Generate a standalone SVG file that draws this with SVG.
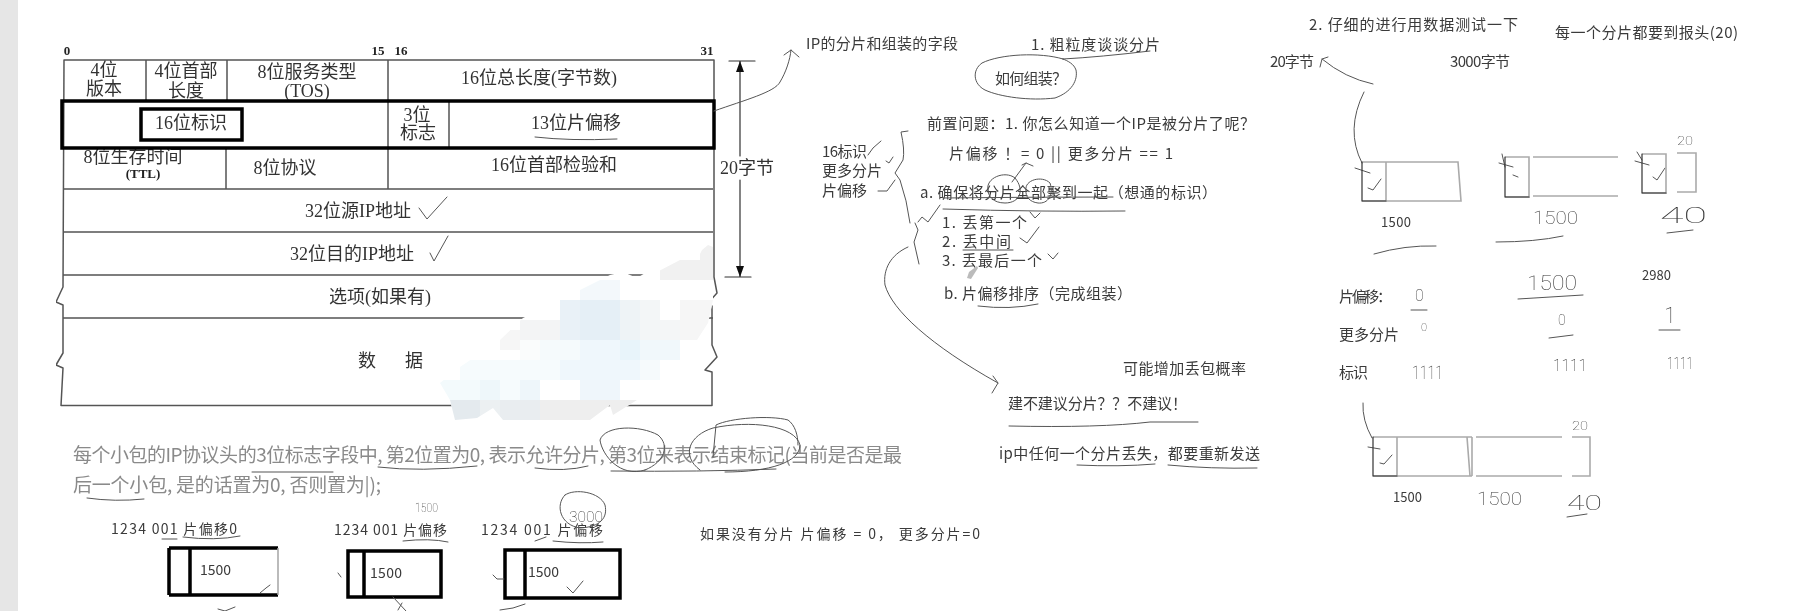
<svg xmlns="http://www.w3.org/2000/svg" width="1811" height="611" viewBox="0 0 1811 611" font-size="15">
<defs>
<style>
text{font-family:"Noto Sans CJK SC","Liberation Sans",sans-serif;fill:#3a3a3a;dominant-baseline:central}
.s{font-family:"Liberation Serif","Noto Sans CJK SC",serif;font-size:18px;fill:#333;text-anchor:middle}
.n{font-family:"Liberation Serif",serif;font-size:13px;font-weight:bold;fill:#222;text-anchor:middle}
.g{font-size:19px;fill:#8a8a8a}
.hw{font-family:"Roboto",sans-serif;font-weight:100;fill:#333}
.t{fill:none;stroke:#555;stroke-width:1.5;stroke-linejoin:round}
.k{fill:none;stroke:#000;stroke-width:3.5}
.p{fill:none;stroke:#555;stroke-width:1;stroke-linecap:round;stroke-linejoin:round}
.d{fill:none;stroke:#333;stroke-width:1.2;stroke-linecap:round}
.b{fill:none;stroke:#aaa;stroke-width:1.6}
</style>
<filter id="soft" x="0" y="0" width="100%" height="100%"><feGaussianBlur stdDeviation="0.45"/></filter>
<clipPath id="mosaic"><path d="M713 247L708 245L702 250L697 260L680 260L657 272L650 270L637 278L623 272L610 275L580 290L560 300L523 318L500 340L460 367L440 383L450 400L455 420L477 418L493 408L503 420L590 420L610 405L613 415L637 400L663 380L680 360L697 340L708 323L713 300Z"/></clipPath>
</defs>
<rect width="1811" height="611" fill="#fff"/>
<rect x="0" y="0" width="18" height="611" fill="#e6e6e6"/>
<g filter="url(#soft)">
<g id="ip-table">
<text class="n" x="67" y="50">0</text><text class="n" x="378" y="50">15</text><text class="n" x="401" y="50">16</text><text class="n" x="707" y="50">31</text>
<path class="t" d="M64 60H714V277L717 293L708 303L712 306L712 345L717 357L705 370L712 372V405.5H61L63 368L56 365L63 353V305L56 302L63 287Z"/>
<path class="t" d="M64 189H713M63 232H713M63 275H713M63 318H713M146 60V101M227 60V101M388 60V189M449 101V148M226 148V189"/>
<g id="table-labels">
<text class="s" x="104" y="70">4位</text><text class="s" x="104" y="89">版本</text>
<text class="s" x="186" y="71">4位首部</text><text class="s" x="186" y="91">长度</text>
<text class="s" x="307" y="72">8位服务类型</text><text class="s" x="307" y="91">(TOS)</text>
<text class="s" x="539" y="78">16位总长度(字节数)</text>
<text class="s" x="191" y="123">16位标识</text>
<text class="s" x="417" y="115">3位</text><text class="s" x="418" y="133">标志</text>
<text class="s" x="576" y="123">13位片偏移</text>
<text class="s" x="133" y="157">8位生存时间</text><text class="n" x="143" y="173">(TTL)</text>
<text class="s" x="285" y="168">8位协议</text>
<text class="s" x="554" y="165">16位首部检验和</text>
<text class="s" x="358" y="211">32位源IP地址</text>
<text class="s" x="352" y="254">32位目的IP地址</text>
<text class="s" x="380" y="297">选项(如果有)</text>
<text class="s" x="367" y="361">数</text><text class="s" x="414" y="361">据</text>
</g>
<rect class="k" x="62" y="101" width="652" height="47"/>
<rect class="k" x="141" y="109" width="101" height="31"/>
<g clip-path="url(#mosaic)">
<rect x="430" y="240" width="290" height="190" fill="#fff"/>
<g fill="#f1f1f1"><rect x="660" y="260" width="40" height="20"/><rect x="700" y="240" width="20" height="40"/><rect x="680" y="300" width="40" height="40" fill="#f6f6f6"/><rect x="520" y="320" width="40" height="20" fill="#f3f4f5"/><rect x="500" y="330" width="20" height="20" fill="#f6f6f6"/></g>
<rect x="580" y="280" width="40" height="20" fill="#f3f8fb"/>
<rect x="560" y="300" width="20" height="40" fill="#e9f1f7"/>
<rect x="580" y="300" width="40" height="40" fill="#e5eff6"/>
<rect x="620" y="300" width="20" height="40" fill="#eef3f6"/><rect x="640" y="300" width="20" height="40" fill="#f3f6f7"/><rect x="660" y="320" width="20" height="20" fill="#f4f6f7"/>
<rect x="520" y="340" width="40" height="20" fill="#fafcfc"/><rect x="540" y="340" width="40" height="20" fill="#f5fafc"/><rect x="580" y="340" width="40" height="20" fill="#eff7fc"/><rect x="620" y="340" width="20" height="20" fill="#e8f4fa"/><rect x="640" y="340" width="40" height="20" fill="#f1f8fb"/>
<rect x="460" y="360" width="100" height="20" fill="#f6fbfd"/><rect x="560" y="360" width="80" height="20" fill="#eff7fc"/><rect x="640" y="360" width="20" height="20" fill="#f6fafc"/>
<rect x="440" y="380" width="60" height="20" fill="#f3fafc"/><rect x="480" y="380" width="20" height="20" fill="#eef7fa"/><rect x="500" y="380" width="20" height="20" fill="#f6fbfd"/><rect x="520" y="380" width="20" height="20" fill="#eef6fa"/><rect x="580" y="380" width="40" height="20" fill="#eff6fb"/>
<rect x="450" y="400" width="30" height="20" fill="#e4eaee"/><rect x="480" y="400" width="20" height="20" fill="#ecf0f2"/><rect x="500" y="400" width="40" height="20" fill="#e9edf0"/><rect x="540" y="400" width="100" height="20" fill="#eeeeee"/>
</g>
<path class="d" d="M740 61V156M740 180V277M729 61H755M725 277H751"/>
<path d="M740 61L736 72H744ZM740 277L736 266H744Z" fill="#111"/>
<text class="s" x="747" y="168">20字节</text>
<path class="p" d="M535 137Q570 141 617 139"/>
<path class="p" d="M419 208L427 219L447 197M430 253L434 261L448 236"/>
</g>

<g id="fragment-note">
<text class="g" x="73" y="453" textLength="829">每个小包的IP协议头的3位标志字段中, 第2位置为0, 表示允许分片, 第3位来表示结束标记(当前是否是最</text>
<text class="g" x="73" y="483" textLength="308">后一个小包, 是的话置为0, 否则置为|);</text>
<path class="p" d="M378 467Q420 472 477 466M535 468Q565 472 588 466M611 471Q700 472 776 469M87 498Q115 502 144 499M252 472H333"/>
<path class="p" d="M645 470C620 478 602 455 600 440C605 425 640 425 658 435C670 445 665 462 645 470Z"/>
<path class="p" d="M700 470C680 455 690 435 713 428C750 420 795 425 800 445C800 462 770 472 725 472M713 457L716 425C730 418 770 415 788 420C795 425 798 435 798 445"/>
</g>
<g id="fragments" font-size="14">
<text x="111" y="528" textLength="126">1234 001 片偏移0</text>
<text x="334" y="529" textLength="113">1234 001 片偏移</text>
<text x="481" y="529" textLength="122">1234 001 片偏移</text>
<text class="hw" x="415" y="508" font-size="12" textLength="23" lengthAdjust="spacingAndGlyphs">1500</text>
<text class="hw" x="569" y="517" font-size="15" textLength="34" lengthAdjust="spacingAndGlyphs">3000</text>
<path class="p" d="M565 495C575 488 600 492 605 505C608 518 600 527 580 528C560 525 555 505 565 495Z"/>
<path class="p" d="M162 539H177M183 537Q215 541 240 536M403 541Q430 538 448 542M535 541L546 537M553 541Q580 544 603 542"/>
<path class="k" d="M169 548H278M169 595H278M169 548V595M190 548V595"/>
<path class="b" d="M278 548V595"/>
<rect class="k" x="348" y="551" width="93" height="46"/><path class="k" d="M364 551V597"/>
<rect class="k" x="505" y="550" width="115" height="48"/><path class="k" d="M525 550V598"/>
<text x="200" y="569" textLength="31">1500</text>
<text x="370" y="572" textLength="32">1500</text>
<text x="528" y="571" textLength="31">1500</text>
<path class="p" d="M260 593L266 588L270 585M567 587L573 593L583 581M218 609L225 611L235 607M393 597L406 611M398 610L402 603M500 610L513 608L525 604M338 573L341 577M493 575L497 579L504 579"/>
<text x="700" y="533" textLength="280">如果没有分片 片偏移 = 0， 更多分片=0</text>
</g>
<g id="notes">
<text x="806" y="42" textLength="152">IP的分片和组装的字段</text>
<path class="p" d="M714 111C745 100 775 92 780 82C786 72 790 60 791 50M784 55L791 50L799 57"/>
<text x="1031" y="43" textLength="129">1. 粗粒度谈谈分片</text>
<path class="p" d="M1063 59Q1100 57 1150 51"/>
<path class="p" d="M1063 59C1040 52 1000 54 982 63C972 70 973 84 985 90C1000 97 1030 101 1055 98C1072 92 1078 80 1076 70C1074 64 1068 61 1063 59Z"/>
<text x="995" y="77" textLength="72">如何组装？</text>
<text x="927" y="122" textLength="328">前置问题：1. 你怎么知道一个IP是被分片了呢？</text>
<text x="949" y="152" textLength="224">片偏移 ！= 0 || 更多分片 == 1</text>
<text x="822" y="150" textLength="45">16标识</text>
<text x="822" y="169" textLength="60">更多分片</text>
<text x="822" y="189" textLength="45">片偏移</text>
<text x="920" y="191" textLength="297">a. 确保将分片全部聚到一起（想通的标识）</text>
<text x="942" y="221" textLength="85">1. 丢第一个</text>
<text x="942" y="240" textLength="69">2. 丢中间</text>
<text x="942" y="259" textLength="100">3. 丢最后一个</text>
<text x="944" y="292" textLength="188">b. 片偏移排序（完成组装）</text>
<text x="1123" y="367" textLength="123">可能增加丢包概率</text>
<text x="1008" y="402" textLength="179">建不建议分片？？不建议！</text>
<text x="999" y="452" textLength="261">ip中任何一个分片丢失，都要重新发送</text>
<path class="p" d="M908 131L901 132Q905 150 903 160L895 173L900 180Q907 200 910 223M915 223L918 230L914 242L919 264M908 247C890 255 883 270 885 285C892 310 930 345 998 383M993 376L998 383L992 393M918 222L922 217L928 222L940 205M943 209Q1040 212 1125 211M943 198Q1030 197 1113 197M988 190C985 178 1005 170 1015 178C1025 190 1020 203 1005 203C993 203 988 196 988 190ZM1026 190C1024 180 1042 175 1050 183C1054 195 1048 204 1038 203C1030 202 1025 197 1026 190ZM1012 182L1026 163M1022 165L1026 163L1033 166M1030 212L1035 218L1040 213M1020 238L1027 243L1039 227M1048 254L1053 259L1058 253M868 155L873 148L881 141M886 161L889 163L893 157M878 191L887 191L895 180M963 250H1013M978 306Q1010 310 1038 304M1009 426Q1100 428 1150 422L1198 422M1077 465Q1120 467 1155 464M1168 465Q1210 469 1257 468"/>
<path d="M967 278L969 272L977 266L978 268L971 279Z" fill="#bbb"/>
</g>
<g id="test">
<text x="1309" y="23" textLength="209">2. 仔细的进行用数据测试一下</text>
<text x="1555" y="31" textLength="183">每一个分片都要到报头(20)</text>
<text x="1270" y="60" textLength="44">20字节</text>
<text x="1450" y="60" textLength="60">3000字节</text>
<text x="1381" y="221" font-size="13" textLength="30">1500</text>
<text x="1642" y="274" font-size="13" textLength="29">2980</text>
<text x="1393" y="496" font-size="13" textLength="29">1500</text>
<text x="1339" y="295" textLength="53">片偏移：</text>
<text x="1339" y="333" textLength="60">更多分片</text>
<text x="1339" y="371" textLength="29">标识</text>
<text class="hw" x="1677" y="140" font-size="13" textLength="16" lengthAdjust="spacingAndGlyphs">20</text>
<text class="hw" x="1533" y="217" font-size="19" textLength="45" lengthAdjust="spacingAndGlyphs">1500</text>
<text class="hw" x="1660" y="215" font-size="22" textLength="47" lengthAdjust="spacingAndGlyphs">40</text>
<text class="hw" x="1415" y="295" font-size="16">0</text>
<text class="hw" x="1421" y="327" font-size="11">0</text>
<text class="hw" x="1412" y="372" font-size="19" textLength="31" lengthAdjust="spacingAndGlyphs">1111</text>
<text class="hw" x="1527" y="283" font-size="20" textLength="50" lengthAdjust="spacingAndGlyphs">1500</text>
<text class="hw" x="1558" y="320" font-size="14">0</text>
<text class="hw" x="1553" y="365" font-size="17" textLength="34" lengthAdjust="spacingAndGlyphs">1111</text>
<text class="hw" x="1664" y="315" font-size="22">1</text>
<text class="hw" x="1667" y="363" font-size="17" textLength="26" lengthAdjust="spacingAndGlyphs">1111</text>
<text class="hw" x="1572" y="425" font-size="13" textLength="16" lengthAdjust="spacingAndGlyphs">20</text>
<text class="hw" x="1477" y="498" font-size="18" textLength="45" lengthAdjust="spacingAndGlyphs">1500</text>
<text class="hw" x="1567" y="503" font-size="20" textLength="35" lengthAdjust="spacingAndGlyphs">40</text>
<path class="p" d="M1373 84Q1345 78 1322 59M1320 67L1322 59L1328 57M1364 92Q1345 130 1362 163M1355 168L1370 173M1368 188L1373 190L1381 179M1499 163L1513 167M1502 154L1505 167M1513 175L1518 177M1635 161L1649 165M1637 152L1642 160M1653 177L1657 180L1665 168M1374 254Q1405 245 1436 246M1496 242Q1535 242 1563 236M1667 233L1693 230M1411 310H1427M1518 299L1583 295M1549 338L1573 335M1659 330H1680M1363 403Q1362 420 1372 438M1368 447L1380 449M1380 463L1384 464L1392 455M1567 517L1587 514"/>
<path class="b" d="M1386 162V201M1362 162H1458L1461 201H1362M1505 157H1529V197H1505M1533 157H1618M1533 196H1618M1642 154H1666V193H1642M1677 153H1696V192H1677M1397 437V476M1373 437H1472M1373 476H1472M1467 437L1470 476M1472 437V476M1476 437H1562M1476 476H1562M1572 437H1590V476H1572"/>
<path class="d" d="M1362 162V201H1386M1505 157V197H1529M1642 154V193H1666M1373 437V476H1397"/>
</g>
</g>
</svg>
